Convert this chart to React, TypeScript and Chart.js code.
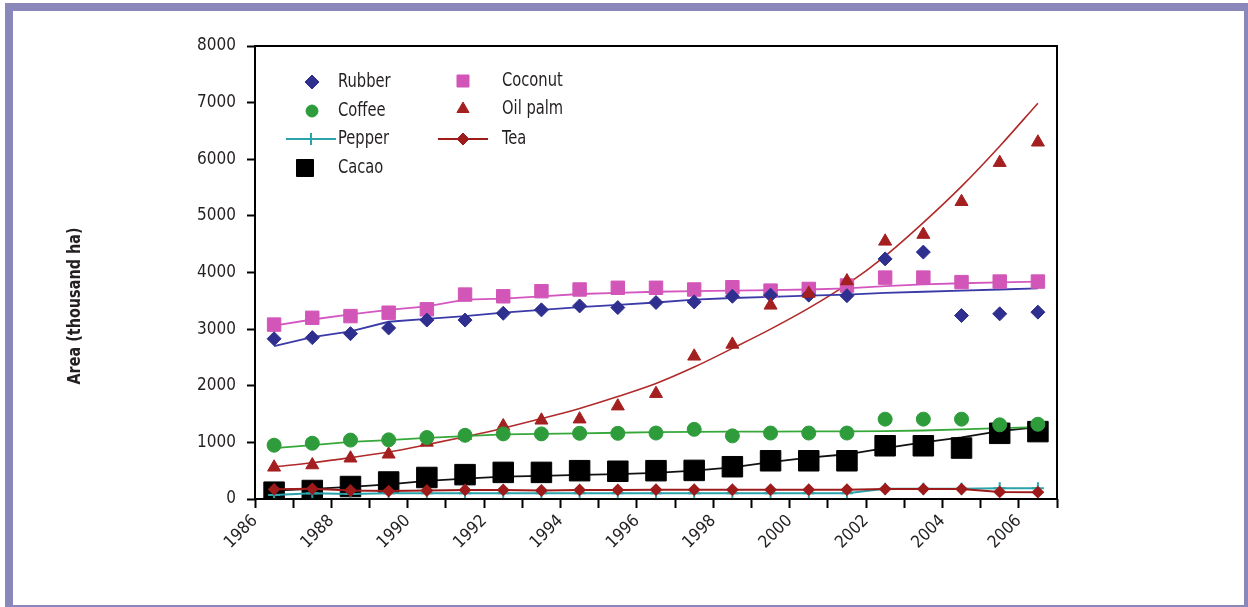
import { useEffect, useRef } from 'react';
import { Chart, registerables } from 'chart.js';
import { drawPoint } from 'chart.js/helpers';

Chart.register(...registerables);

const YEARS = [1986.5, 1987.5, 1988.5, 1989.5, 1990.5, 1991.5, 1992.5, 1993.5, 1994.5, 1995.5, 1996.5, 1997.5, 1998.5, 1999.5, 2000.5, 2001.5, 2002.5, 2003.5, 2004.5, 2005.5, 2006.5];

const RUBBER = [2830, 2850, 2920, 3020, 3160, 3160, 3280, 3340, 3410, 3380, 3470, 3480, 3580, 3600, 3600, 3590, 4240, 4360, 3240, 3270, 3300];
const COCONUT = [3080, 3200, 3230, 3290, 3350, 3610, 3580, 3670, 3700, 3730, 3730, 3700, 3740, 3680, 3710, 3770, 3910, 3910, 3830, 3840, 3840];
const COFFEE = [950, 985, 1040, 1045, 1085, 1125, 1150, 1150, 1160, 1160, 1165, 1230, 1115, 1165, 1165, 1165, 1410, 1410, 1410, 1310, 1320];
const OIL_PALM = [560, 600, 720, 790, 1000, 1120, 1290, 1390, 1410, 1640, 1860, 2520, 2730, 3420, 3630, 3850, 4550, 4670, 5250, 5940, 6300];
const PEPPER = [70, 100, 90, 100, 100, 100, 100, 100, 100, 100, 100, 100, 100, 100, 100, 100, 180, 180, 180, 190, 190];
const TEA = [170, 180, 150, 140, 150, 160, 160, 150, 160, 160, 165, 165, 165, 165, 165, 165, 175, 175, 175, 125, 120];
const CACAO = [120, 150, 220, 300, 380, 430, 470, 470, 500, 490, 500, 505, 570, 675, 675, 675, 940, 940, 900, 1160, 1190];

const RUBBER_TREND = [2700, 2860, 2960, 3130, 3180, 3230, 3290, 3340, 3390, 3430, 3470, 3520, 3550, 3570, 3590, 3610, 3640, 3660, 3680, 3700, 3720];
const COCONUT_TREND = [3060, 3170, 3260, 3340, 3400, 3520, 3540, 3580, 3620, 3640, 3660, 3670, 3680, 3690, 3700, 3720, 3760, 3790, 3810, 3825, 3840];
const COFFEE_TREND = [900, 950, 1010, 1040, 1080, 1110, 1140, 1150, 1160, 1170, 1180, 1185, 1190, 1190, 1195, 1195, 1200, 1210, 1230, 1250, 1270];
const OIL_PALM_TREND = [570, 640, 730, 830, 960, 1100, 1250, 1420, 1600, 1810, 2040, 2330, 2660, 3000, 3370, 3790, 4290, 4880, 5520, 6230, 6990];
const CACAO_TREND = [150, 180, 215, 260, 320, 360, 395, 410, 425, 440, 460, 500, 560, 650, 730, 790, 900, 1000, 1090, 1200, 1270];

const X_TICK_LABELS = ['1986', '1988', '1990', '1992', '1994', '1996', '1998', '2000', '2002', '2004', '2006'];
const Y_TICK_LABELS = ['0', '1000', '2000', '3000', '4000', '5000', '6000', '7000', '8000'];

const Y_TITLE = 'Area (thousand ha)';

const C_RUBBER = '#2e2f8f';
const C_COCONUT = '#d256b8';
const C_COFFEE = '#2f9c3c';
const C_OIL = '#a41f1f';
const C_PEPPER = '#2ba3ab';
const C_TEA = '#9e1b1b';
const C_CACAO = '#000000';

const FONT = "'Liberation Sans Narrow', 'DejaVu Sans Condensed', 'Roboto Condensed', 'Open Sans', sans-serif";
const TEXT = '#231f20';

const LEGEND = [
  { label: 'Rubber', style: 'rectRot', radius: 7, color: C_RUBBER, x: 312, y: 82, line: false },
  { label: 'Coffee', style: 'circle', radius: 6, color: C_COFFEE, x: 312, y: 111, line: false },
  { label: 'Pepper', style: 'cross', radius: 6, color: C_PEPPER, x: 311, y: 139, line: true },
  { label: 'Cacao', style: 'rect', radius: 12, color: C_CACAO, x: 305, y: 168, line: false },
  { label: 'Coconut', style: 'rect', radius: 8.5, color: C_COCONUT, x: 463, y: 81, line: false },
  { label: 'Oil palm', style: 'triangle', radius: 7, color: C_OIL, x: 463, y: 109, line: false },
  { label: 'Tea', style: 'rectRot', radius: 6, color: C_TEA, x: 463, y: 139, line: true },
];

const boxPlugin = {
  id: 'boxLegendTitle',
  afterDraw(chart: any) {
    const { ctx, chartArea } = chart;
    const { left, top, right, bottom } = chartArea;
    ctx.save();
    ctx.strokeStyle = '#000';
    ctx.lineWidth = 2;
    ctx.strokeRect(left, top, right - left, bottom - top);

    // legend
    LEGEND.forEach((it) => {
      if (it.line) {
        ctx.strokeStyle = it.color;
        ctx.lineWidth = 2;
        ctx.beginPath();
        ctx.moveTo(it.x - 25, it.y);
        ctx.lineTo(it.x + 25, it.y);
        ctx.stroke();
      }
      ctx.fillStyle = it.color;
      ctx.strokeStyle = it.color;
      ctx.lineWidth = it.style === 'cross' ? 2 : 1;
      drawPoint(ctx, { pointStyle: it.style, radius: it.radius, rotation: 0, borderWidth: ctx.lineWidth }, it.x, it.y);
      const tx = it.x < 400 ? 338 : 502;
      ctx.save();
      ctx.translate(tx, it.y);
      ctx.scale(0.86, 1);
      ctx.font = `19px ${FONT}`;
      ctx.textBaseline = 'middle';
      ctx.textAlign = 'left';
      ctx.fillStyle = TEXT;
      ctx.fillText(it.label, 0, 0);
      ctx.restore();
    });

    // y axis title
    ctx.translate(75, 306);
    ctx.rotate(-Math.PI / 2);
    ctx.scale(0.89, 1);
    ctx.font = `bold 18px ${FONT}`;
    ctx.textAlign = 'center';
    ctx.textBaseline = 'middle';
    ctx.fillStyle = TEXT;
    ctx.fillText(Y_TITLE, 0, 0);
    ctx.restore();
  },
};

export default function App() {
  const ref = useRef<HTMLCanvasElement>(null);

  useEffect(() => {
    const pts = (arr: number[]) => YEARS.map((x, i) => ({ x, y: arr[i] }));
    const scatter = (label: string, arr: number[], color: string, style: string, radius: number, order: number, extra: any = {}) => ({
      label,
      data: pts(arr),
      showLine: false,
      pointStyle: style,
      pointRadius: radius,
      pointBackgroundColor: color,
      pointBorderColor: color,
      pointBorderWidth: 1,
      backgroundColor: color,
      borderColor: color,
      order,
      ...extra,
    });
    const trend = (label: string, arr: number[], color: string, extra: any = {}) => ({
      label,
      data: pts(arr),
      showLine: true,
      borderColor: color,
      borderWidth: 1.8,
      pointRadius: 0,
      fill: false,
      tension: 0,
      order: 6,
      ...extra,
    });

    const chart = new Chart(ref.current as HTMLCanvasElement, {
      type: 'line',
      data: {
        datasets: [
          {
            label: 'Tea',
            data: pts(TEA),
            showLine: true,
            borderColor: C_TEA,
            borderWidth: 2,
            pointStyle: 'rectRot',
            pointRadius: 5,
            pointBackgroundColor: C_TEA,
            pointBorderColor: C_TEA,
            order: 0,
          },
          {
            label: 'Pepper',
            data: pts(PEPPER),
            showLine: true,
            borderColor: C_PEPPER,
            borderWidth: 2,
            pointStyle: 'cross',
            pointRadius: 6,
            pointBorderWidth: 2,
            pointBackgroundColor: C_PEPPER,
            pointBorderColor: C_PEPPER,
            order: 0,
          },
          scatter('Coffee', COFFEE, C_COFFEE, 'circle', 7, 1),
          scatter('Oil palm', OIL_PALM, C_OIL, 'triangle', 7.5, 2),
          scatter('Rubber', RUBBER, C_RUBBER, 'rectRot', 7, 3),
          scatter('Coconut', COCONUT, C_COCONUT, 'rect', 9.5, 4),
          scatter('Cacao', CACAO, C_CACAO, 'rect', 14.5, 5),
          trend('Rubber trend', RUBBER_TREND, '#3a3aa8'),
          trend('Coconut trend', COCONUT_TREND, '#d457c0'),
          trend('Coffee trend', COFFEE_TREND, '#36a83a'),
          trend('Oil palm trend', OIL_PALM_TREND, '#b02a2a', { cubicInterpolationMode: 'monotone', borderWidth: 1.6 }),
          trend('Cacao trend', CACAO_TREND, '#111111'),
        ] as any,
      },
      options: {
        responsive: false,
        animation: false,
        layout: { padding: { top: 46, right: 191, left: 0, bottom: 0 } },
        plugins: {
          legend: { display: false },
          tooltip: { enabled: false },
        },
        scales: {
          x: {
            type: 'linear',
            min: 1986,
            max: 2007,
            afterFit: (s: any) => {
              s.height = 108;
            },
            ticks: {
              stepSize: 1,
              autoSkip: false,
              maxRotation: 45,
              minRotation: 45,
              padding: 3,
              color: TEXT,
              font: { family: FONT, size: 17 },
              callback: (v: any) => (X_TICK_LABELS.includes(String(v)) ? String(v) : ''),
            },
            grid: { drawOnChartArea: false, drawTicks: true, tickLength: 9, color: '#000', tickColor: '#000', tickWidth: 2 },
            border: { display: false },
          },
          y: {
            min: 0,
            max: 8000,
            afterFit: (s: any) => {
              s.width = 255;
            },
            ticks: {
              stepSize: 1000,
              padding: 11,
              color: TEXT,
              font: { family: FONT, size: 17 },
              callback: (v: any) => (Y_TICK_LABELS.includes(String(v)) ? String(v) : ''),
            },
            grid: { drawOnChartArea: false, drawTicks: true, tickLength: 8, color: '#000', tickColor: '#000', tickWidth: 2 },
            border: { display: false },
          },
        },
      } as any,
      plugins: [boxPlugin],
    });
    return () => chart.destroy();
  }, []);

  return (
    <div style={{ position: 'fixed', left: 0, top: 0, width: 1248, height: 607, overflow: 'hidden', background: '#fff' }}>
      <div
        style={{
          position: 'absolute',
          left: 5,
          top: 3,
          width: 1247,
          height: 610,
          border: '8px solid #8a88bb',
          boxSizing: 'border-box',
        }}
      />
      <canvas ref={ref} width={1248} height={607} style={{ position: 'absolute', left: 0, top: 0, width: 1248, height: 607 }} />
    </div>
  );
}
